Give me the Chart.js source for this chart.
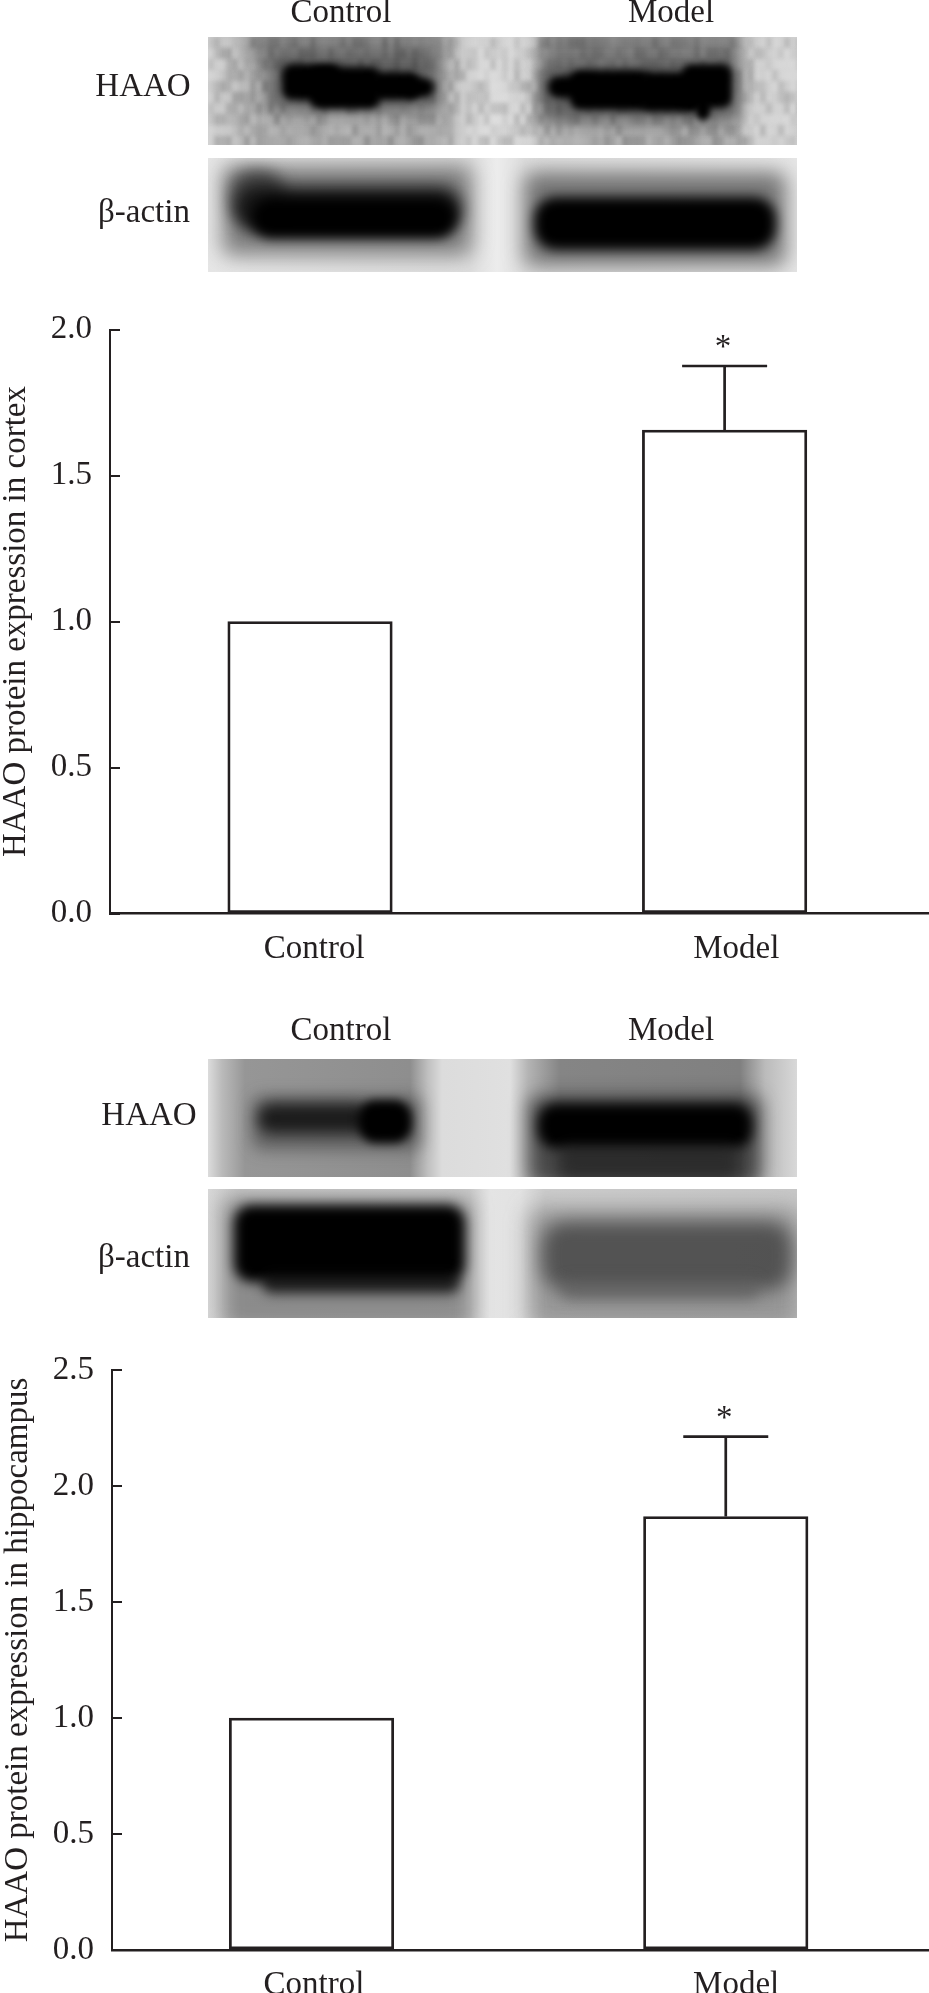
<!DOCTYPE html>
<html>
<head>
<meta charset="utf-8">
<script src="https://cdn.jsdelivr.net/npm/chart.js@4"></script>
<style>
    html, body { margin: 0; padding: 0; background: #fff; }
    #page { position: relative; width: 929px; height: 1993px; overflow: hidden; }
    #page canvas { position: absolute; display: block; }
    .lab { position: absolute; font: 33px/33px "Liberation Serif", serif; color: #231f20; transform: translateX(-50%); white-space: nowrap; }
</style>
</head>
<body>
<div id="page">
    <canvas id="blots" width="929" height="1993" style="left:0;top:0"></canvas>

    <div class="lab" style="left:341px;top:-5px">Control</div>
    <div class="lab" style="left:671px;top:-5px">Model</div>
    <div class="lab" style="left:143px;top:69px">HAAO</div>
    <div class="lab" style="left:144px;top:195px">β-actin</div>

    <div class="lab" style="left:341px;top:1013px">Control</div>
    <div class="lab" style="left:671px;top:1013px">Model</div>
    <div class="lab" style="left:149px;top:1098px">HAAO</div>
    <div class="lab" style="left:144px;top:1240px">β-actin</div>

    <canvas id="cortexChart" width="929" height="670" style="left:0;top:300px"></canvas>
    <canvas id="hippoChart" width="927" height="653" style="left:2px;top:1340px"></canvas>
</div>

<script>
// values
const categories = ['Control', 'Model'];
const barX = [0, 1];

const cortexValues = [1.0, 1.656];
const cortexErrors = [0, 0.219];
const cortexStars = ['', '*'];
const cortexTitle = 'HAAO protein expression in cortex';

const hippoValues = [1.0, 1.868];
const hippoErrors = [0, 0.345];
const hippoStars = ['', '*'];
const hippoTitle = 'HAAO protein expression in hippocampus';

const ink = '#231f20';
const serif = '"Liberation Serif", serif';

// error whiskers and significance stars, placed through the chart's scales
const errorBars = {
    id: 'errorBars',
    afterDatasetsDraw(chart, args, opts) {
        let ctx = chart.ctx;
        let xs = chart.scales.x;
        let ys = chart.scales.y;
        ctx.save();
        ctx.strokeStyle = ink;
        ctx.fillStyle = ink;
        ctx.lineWidth = 2.7;
        opts.errors.forEach((err, i) => {
            if (!err) return;
            let x = xs.getPixelForValue(barX[i]);
            let top = ys.getPixelForValue(opts.values[i] + err);
            let base = ys.getPixelForValue(opts.values[i]);
            ctx.beginPath();
            ctx.moveTo(x, base);
            ctx.lineTo(x, top);
            ctx.moveTo(x - 42.5, top);
            ctx.lineTo(x + 42.5, top);
            ctx.stroke();
            ctx.font = '33px ' + serif;
            ctx.textAlign = 'center';
            ctx.textBaseline = 'alphabetic';
            ctx.fillText(opts.stars[i], x - 1.5, top - 9);
        });
        ctx.restore();
    }
};

let makeChart = (id, cfg) => {
    new Chart(document.getElementById(id), {
        type: 'bar',
        data: {
            datasets: [{
                data: cfg.values.map((v, i) => ({ x: barX[i], y: v })),
                backgroundColor: '#fff',
                borderColor: ink,
                borderWidth: 2.8,
                borderSkipped: false,
                barThickness: 164.5
            }]
        },
        options: {
            responsive: false,
            animation: false,
            layout: { padding: { top: cfg.top, left: 0, right: 0, bottom: 0 } },
            plugins: {
                legend: { display: false },
                tooltip: { enabled: false },
                errorBars: { values: cfg.values, errors: cfg.errors, stars: cfg.stars }
            },
            scales: {
                x: {
                    type: 'linear',
                    offset: false,
                    min: cfg.xRange[0],
                    max: cfg.xRange[1],
                    grid: { display: false, offset: false },
                    border: { color: ink, width: 2.5 },
                    afterBuildTicks: scale => { scale.ticks = cfg.labelX.map(v => ({ value: v })); },
                    afterFit: scale => {
                        scale.height = cfg.xHeight;
                        scale.paddingLeft = 0;
                        scale.paddingRight = 0;
                    },
                    ticks: {
                        autoSkip: false,
                        maxRotation: 0,
                        padding: 8,
                        color: ink,
                        font: { family: serif, size: 33 },
                        callback: (v, i) => categories[i]
                    }
                },
                y: {
                    min: 0,
                    max: cfg.yMax,
                    // negative length: the ticks point into the plot as in the figure
                    grid: { drawOnChartArea: false, color: ink, lineWidth: 2, tickLength: -10 },
                    border: { color: ink, width: 2 },
                    afterFit: scale => {
                        scale.width = cfg.yWidth;
                        scale.paddingTop = 0;
                        scale.paddingBottom = 0;
                    },
                    ticks: {
                        stepSize: 0.5,
                        padding: 28,
                        color: ink,
                        font: { family: serif, size: 33 },
                        callback: v => v.toFixed(1)
                    },
                    title: {
                        display: true,
                        text: cfg.title,
                        color: ink,
                        padding: { top: 0, bottom: 0 },
                        font: { family: serif, size: 33, lineHeight: 1 }
                    }
                }
            }
        },
        plugins: [errorBars]
    });
};

makeChart('cortexChart', {
    values: cortexValues, errors: cortexErrors, stars: cortexStars, title: cortexTitle,
    yMax: 2.0, top: 29.5, xHeight: 56.4, yWidth: 110,
    xRange: [-0.4825, 1.493], labelX: [0.01, 1.028]
});
makeChart('hippoChart', {
    values: hippoValues, errors: hippoErrors, stars: hippoStars, title: hippoTitle,
    yMax: 2.5, top: 30, xHeight: 43, yWidth: 110,
    xRange: [-0.4816, 1.4906], labelX: [0.006, 1.025]
});


// the western blot photographs: soft grey shapes, no data in them
let blotCtx = document.getElementById('blots').getContext('2d');

let drawPanel = (x, y, w, h, stops, shapes, grain) => {
    let ctx = blotCtx;
    ctx.save();
    ctx.beginPath();
    ctx.rect(x, y, w, h);
    ctx.clip();
    let g = ctx.createLinearGradient(x, 0, x + w, 0);
    stops.forEach(s => g.addColorStop((s[0] - x) / w, s[1]));
    ctx.fillStyle = g;
    ctx.fillRect(x, y, w, h);
    if (grain) {
        // soft mottling of the noisy top blot
        ctx.filter = 'blur(2px)';
        for (let cx = x; cx < x + w; cx += 6) {
            for (let cy = y; cy < y + h; cy += 11) {
                let n = Math.sin(cx * 12.9898 + cy * 78.233) * 43758.5453;
                n = n - Math.floor(n);
                ctx.fillStyle = n > 0.5 ? 'rgba(255,255,255,' + (n - 0.5) * grain + ')' : 'rgba(0,0,0,' + (0.5 - n) * grain + ')';
                ctx.fillRect(cx, cy, 6, 11);
            }
        }
    }
    shapes.forEach(s => {
        ctx.filter = 'blur(' + s[5] + 'px)';
        ctx.fillStyle = s[4];
        ctx.beginPath();
        ctx.roundRect(s[0], s[1], s[2] - s[0], s[3] - s[1], s[6] || 10);
        ctx.fill();
    });
    ctx.filter = 'none';
    ctx.restore();
};

drawPanel(208, 37, 589, 108,
    [[208, '#d2d2d2'], [235, '#bdbdbd'], [265, '#a8a8a8'], [440, '#aaaaaa'], [462, '#cacaca'], [490, '#dadada'], [530, '#d0d0d0'], [550, '#ababab'], [730, '#a8a8a8'], [750, '#cccccc'], [797, '#d6d6d6']],
    [[248, 30, 445, 64, 'rgba(40,40,40,0.35)', 9], [538, 30, 742, 64, 'rgba(40,40,40,0.35)', 9],
     [268, 56, 440, 112, 'rgba(40,40,40,0.55)', 8], [538, 60, 740, 122, 'rgba(40,40,40,0.55)', 8],
     [282, 64, 340, 100, '#000', 3.5], [310, 67, 380, 109, '#000', 3.5], [370, 72, 420, 100, '#000', 3.5], [405, 78, 434, 97, '#000', 3.5],
     [548, 76, 600, 98, '#000', 3.5], [570, 70, 650, 110, '#000', 3.5], [640, 72, 700, 112, '#000', 3.5], [682, 64, 732, 108, '#000', 3.5], [696, 98, 710, 120, '#000', 3]],
    0.3);

drawPanel(208, 158, 589, 114,
    [[208, '#e6e6e6'], [470, '#dedede'], [497, '#ececec'], [525, '#dedede'], [797, '#e6e6e6']],
    [[222, 165, 472, 256, 'rgba(90,90,90,0.7)', 10], [524, 172, 786, 266, 'rgba(90,90,90,0.8)', 10],
     [230, 170, 285, 225, 'rgba(40,40,40,0.7)', 8, 24], [236, 186, 462, 232, 'rgba(15,15,15,0.9)', 8, 22],
     [252, 198, 456, 238, '#000', 6, 20],
     [534, 197, 776, 250, '#000', 6, 22]]);

drawPanel(208, 1059, 589, 118,
    [[208, '#dcdcdc'], [222, '#bababa'], [245, '#969696'], [410, '#8e8e8e'], [428, '#c0c0c0'], [442, '#dcdcdc'], [510, '#e0e0e0'], [528, '#b4b4b4'], [560, '#858585'], [740, '#808080'], [765, '#bbbbbb'], [797, '#d8d8d8']],
    [[252, 1096, 422, 1150, 'rgba(50,50,50,0.5)', 8], [528, 1096, 762, 1185, 'rgba(30,30,30,0.65)', 9],
     [258, 1104, 370, 1133, 'rgba(20,20,20,0.9)', 7, 14], [358, 1100, 412, 1143, '#000', 5, 18],
     [538, 1104, 752, 1148, '#000', 6, 18], [560, 1145, 738, 1180, 'rgba(30,30,30,0.6)', 7]]);

drawPanel(208, 1189, 589, 129,
    [[208, '#d8d8d8'], [240, '#c8c8c8'], [470, '#cccccc'], [490, '#e4e4e4'], [520, '#e2e2e2'], [545, '#cccccc'], [797, '#c8c8c8']],
    [[222, 1198, 472, 1330, 'rgba(90,90,90,0.55)', 10],
     [234, 1205, 465, 1282, '#000', 6, 18], [262, 1272, 460, 1294, 'rgba(10,10,10,0.75)', 6],
     [528, 1208, 800, 1330, 'rgba(110,110,110,0.55)', 11],
     [542, 1222, 792, 1290, 'rgba(70,70,70,0.85)', 9, 24], [560, 1280, 760, 1300, 'rgba(90,90,90,0.6)', 7]]);
</script>
</body>
</html>
